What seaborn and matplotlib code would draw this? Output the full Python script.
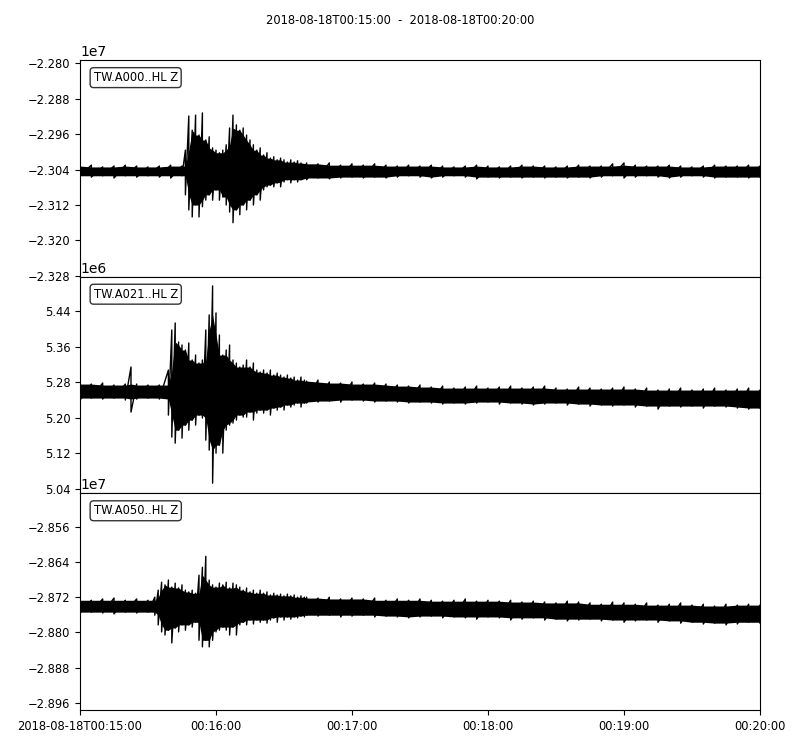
import numpy as np
import pandas as pd
import matplotlib
matplotlib.use("Agg")
import matplotlib.pyplot as plt
import seaborn as sns
from matplotlib.ticker import ScalarFormatter

# ---------------- data ----------------
title = "2018-08-18T00:15:00  -  2018-08-18T00:20:00"
trace_ids = ["TW.A000..HL Z", "TW.A021..HL Z", "TW.A050..HL Z"]
x_tick_seconds = [0, 60, 120, 180, 240, 300]
x_tick_labels = ["2018-08-18T00:15:00", "00:16:00", "00:17:00",
                 "00:18:00", "00:19:00", "00:20:00"]

# ---- TW.A000 (values x 1e7), envelope upper / lower at time t (s after 00:15:00)
a000_t = [0, 5, 10, 15, 20, 25, 30, 35, 40, 45,
          46.5, 48, 49.5, 51, 52.5, 54, 55.5, 57, 58.5, 60,
          61.5, 63, 64.5, 66, 67.5, 69, 70.5, 72, 73.5, 75,
          76.5, 78, 79.5, 81, 82.5, 84, 85.5, 87, 88.5, 90,
          91.5, 93, 94.5, 96, 97.5,
          100, 105, 110, 115, 120, 125, 130, 135, 140, 145,
          150, 155, 160, 165, 170, 175, 180, 185, 190, 195,
          200, 205, 210, 215, 220, 225, 230, 235, 240, 245,
          250, 255, 260, 265, 270, 275, 280, 285, 290, 295, 300]
a000_hi = [-2.3032, -2.3030, -2.3034, -2.3032, -2.3030, -2.3032, -2.3034, -2.3032, -2.3030, -2.3032,
           -2.2996, -2.2919, -2.2951, -2.2917, -2.2962, -2.2912, -2.2973, -2.2966, -2.2991, -2.2996,
           -2.3002, -2.2996, -2.2984, -2.2946, -2.2917, -2.2939, -2.2951, -2.2946, -2.2962, -2.2973,
           -2.2984, -2.2996, -2.2991, -2.3007, -2.3002, -2.3014, -2.3011, -2.3018, -2.3014, -2.3018,
           -2.3023, -2.3018, -2.3023, -2.3020, -2.3025,
           -2.3025, -2.3027, -2.3025, -2.3030, -2.3027, -2.3030, -2.3027, -2.3030, -2.3032, -2.3030,
           -2.3032, -2.3030, -2.3032, -2.3034, -2.3032, -2.3030, -2.3032, -2.3034, -2.3032, -2.3030,
           -2.3032, -2.3032, -2.3034, -2.3032, -2.3030, -2.3032, -2.3032, -2.3027, -2.3025, -2.3030,
           -2.3032, -2.3032, -2.3030, -2.3032, -2.3034, -2.3032, -2.3030, -2.3032, -2.3032, -2.3030,
           -2.3032]
a000_lo = [-2.3054, -2.3057, -2.3054, -2.3059, -2.3054, -2.3057, -2.3054, -2.3057, -2.3059, -2.3054,
           -2.3097, -2.3131, -2.3147, -2.3120, -2.3147, -2.3124, -2.3109, -2.3097, -2.3109, -2.3086,
           -2.3109, -2.3102, -2.3120, -2.3136, -2.3160, -2.3131, -2.3142, -2.3120, -2.3131, -2.3109,
           -2.3120, -2.3097, -2.3109, -2.3086, -2.3079, -2.3075, -2.3079, -2.3070, -2.3079, -2.3068,
           -2.3063, -2.3070, -2.3063, -2.3068, -2.3063,
           -2.3063, -2.3059, -2.3061, -2.3059, -2.3057, -2.3059, -2.3057, -2.3059, -2.3057, -2.3054,
           -2.3057, -2.3059, -2.3057, -2.3054, -2.3057, -2.3061, -2.3057, -2.3059, -2.3057, -2.3059,
           -2.3057, -2.3059, -2.3057, -2.3059, -2.3057, -2.3059, -2.3057, -2.3054, -2.3059, -2.3057,
           -2.3054, -2.3057, -2.3059, -2.3057, -2.3054, -2.3057, -2.3059, -2.3057, -2.3057, -2.3059,
           -2.3057]
a000_yticks = [-2.280, -2.288, -2.296, -2.304, -2.312, -2.320, -2.328]

# ---- TW.A021 (values x 1e6)
a021_t = [0, 5, 10, 15, 20, 22.5, 25, 30, 35,
          39, 40.5, 42, 43.5, 45, 46.5, 48, 49.5, 51, 52.5,
          54, 55.5, 57, 58.5, 60, 61.5, 63, 64.5, 66, 67.5,
          69, 70.5, 72, 73.5, 75, 76.5, 78, 79.5, 81, 82.5,
          84, 85.5, 87, 88.5, 90, 91.5, 93, 94.5, 96, 97.5, 99,
          100, 105, 110, 115, 120, 125, 130, 135, 140, 145,
          150, 155, 160, 165, 170, 175, 180, 185, 190, 195,
          200, 205, 210, 215, 220, 225, 230, 235, 240, 245,
          250, 255, 260, 265, 270, 275, 280, 285, 290, 295, 300]
a021_hi = [5.2783, 5.2760, 5.2783, 5.2738, 5.2760, 5.3144, 5.2760, 5.2738, 5.2738,
           5.3076, 5.3978, 5.4136, 5.3708, 5.3640, 5.3527, 5.3685, 5.3302, 5.3414, 5.3234,
           5.3302, 5.3978, 5.4317, 5.4971, 5.4362, 5.3865, 5.3414, 5.3527, 5.3640, 5.3302,
           5.3234, 5.3144, 5.3189, 5.3302, 5.3144, 5.3234, 5.3076, 5.3031, 5.3076, 5.3008,
           5.3076, 5.2963, 5.3008, 5.2963, 5.2918, 5.2963, 5.2895, 5.2918, 5.2850, 5.2918, 5.2850,
           5.2827, 5.2850, 5.2805, 5.2783, 5.2805, 5.2760, 5.2783, 5.2760, 5.2738, 5.2715,
           5.2738, 5.2693, 5.2715, 5.2670, 5.2693, 5.2715, 5.2670, 5.2693, 5.2715, 5.2670,
           5.2693, 5.2715, 5.2670, 5.2648, 5.2693, 5.2670, 5.2648, 5.2670, 5.2693, 5.2648,
           5.2670, 5.2625, 5.2648, 5.2670, 5.2625, 5.2648, 5.2670, 5.2625, 5.2648, 5.2670,
           5.2625]
a021_lo = [5.2399, 5.2444, 5.2422, 5.2444, 5.2399, 5.2129, 5.2422, 5.2444, 5.2422,
           5.2061, 5.1565, 5.1429, 5.1722, 5.1542, 5.1835, 5.1722, 5.1948, 5.1835, 5.2061,
           5.1994, 5.1497, 5.1272, 5.0527, 5.1204, 5.1384, 5.1204, 5.1722, 5.1835, 5.1880,
           5.1948, 5.2061, 5.2016, 5.2016, 5.2129, 5.1948, 5.2106, 5.2174, 5.2106, 5.2174,
           5.2061, 5.2219, 5.2174, 5.2242, 5.2174, 5.2287, 5.2242, 5.2287, 5.2332, 5.2242, 5.2332,
           5.2332, 5.2354, 5.2377, 5.2354, 5.2399, 5.2377, 5.2354, 5.2377, 5.2354, 5.2332,
           5.2354, 5.2332, 5.2309, 5.2332, 5.2309, 5.2332, 5.2354, 5.2309, 5.2332, 5.2309,
           5.2287, 5.2309, 5.2332, 5.2287, 5.2309, 5.2264, 5.2287, 5.2264, 5.2287, 5.2242,
           5.2264, 5.2196, 5.2264, 5.2242, 5.2264, 5.2219, 5.2264, 5.2242, 5.2219, 5.2196,
           5.2219]
a021_yticks = [5.04, 5.12, 5.20, 5.28, 5.36, 5.44]

# ---- TW.A050 (values x 1e7)
a050_t = [0, 5, 10, 15, 20, 25, 30,
          33, 34.5, 36, 37.5, 39, 40.5, 42, 43.5, 45, 46.5,
          48, 49.5, 51, 52.5, 54, 55.5, 57, 58.5, 60, 61.5,
          63, 64.5, 66, 67.5, 69, 70.5, 72, 73.5, 75, 76.5,
          78, 79.5, 81, 82.5, 84, 85.5, 87, 88.5, 90, 91.5,
          93, 94.5, 96, 97.5, 99,
          100, 105, 110, 115, 120, 125, 130, 135, 140, 145,
          150, 155, 160, 165, 170, 175, 180, 185, 190, 195,
          200, 205, 210, 215, 220, 225, 230, 235, 240, 245,
          250, 255, 260, 265, 270, 275, 280, 285, 290, 295, 300]
a050_hi = [-2.8722, -2.8727, -2.8724, -2.8722, -2.8727, -2.8724, -2.8727,
           -2.8720, -2.8704, -2.8686, -2.8692, -2.8681, -2.8697, -2.8688, -2.8699, -2.8692, -2.8704,
           -2.8708, -2.8704, -2.8711, -2.8670, -2.8652, -2.8627, -2.8681, -2.8692, -2.8697, -2.8688,
           -2.8692, -2.8686, -2.8699, -2.8688, -2.8692, -2.8697, -2.8704, -2.8699, -2.8708, -2.8704,
           -2.8711, -2.8704, -2.8711, -2.8708, -2.8715, -2.8711, -2.8715, -2.8713, -2.8717, -2.8713,
           -2.8717, -2.8715, -2.8720, -2.8717, -2.8720,
           -2.8720, -2.8722, -2.8720, -2.8724, -2.8722, -2.8724, -2.8722, -2.8727, -2.8724, -2.8727,
           -2.8724, -2.8727, -2.8729, -2.8727, -2.8724, -2.8729, -2.8727, -2.8729, -2.8727, -2.8731,
           -2.8729, -2.8731, -2.8733, -2.8729, -2.8731, -2.8733, -2.8736, -2.8731, -2.8733, -2.8736,
           -2.8733, -2.8738, -2.8736, -2.8733, -2.8738, -2.8736, -2.8740, -2.8736, -2.8738, -2.8736,
           -2.8738]
a050_lo = [-2.8756, -2.8754, -2.8756, -2.8758, -2.8754, -2.8756, -2.8754,
           -2.8761, -2.8783, -2.8799, -2.8806, -2.8795, -2.8824, -2.8790, -2.8799, -2.8783, -2.8795,
           -2.8783, -2.8788, -2.8777, -2.8818, -2.8833, -2.8818, -2.8833, -2.8818, -2.8799, -2.8795,
           -2.8788, -2.8795, -2.8806, -2.8788, -2.8806, -2.8783, -2.8777, -2.8783, -2.8772, -2.8781,
           -2.8772, -2.8777, -2.8772, -2.8779, -2.8772, -2.8767, -2.8777, -2.8765, -2.8772, -2.8765,
           -2.8770, -2.8765, -2.8767, -2.8763, -2.8765,
           -2.8761, -2.8763, -2.8761, -2.8765, -2.8763, -2.8761, -2.8765, -2.8763, -2.8765, -2.8767,
           -2.8765, -2.8763, -2.8767, -2.8765, -2.8767, -2.8770, -2.8765, -2.8767, -2.8772, -2.8770,
           -2.8767, -2.8772, -2.8770, -2.8774, -2.8772, -2.8770, -2.8774, -2.8772, -2.8777, -2.8774,
           -2.8772, -2.8777, -2.8774, -2.8779, -2.8777, -2.8781, -2.8779, -2.8783, -2.8781, -2.8777,
           -2.8779]
a050_yticks = [-2.856, -2.864, -2.872, -2.880, -2.888, -2.896]

# ---------------- figure ----------------
panels = [
    (a000_t, a000_hi, a000_lo, 1e7, a000_yticks, (-2.32823, -2.27932)),
    (a021_t, a021_hi, a021_lo, 1e6, a021_yticks, (5.0296, 5.5174)),
    (a050_t, a050_hi, a050_lo, 1e7, a050_yticks, (-2.89766, -2.84841)),
]

fig, axes = plt.subplots(3, 1, figsize=(8, 7.5), dpi=100, sharex=True)
fig.subplots_adjust(left=0.1, right=0.95, top=0.9196, bottom=0.0533, hspace=0)

for ax, name, (t, hi, lo, scale, yt, ylim) in zip(axes, trace_ids, panels):
    t = np.asarray(t, float)
    hi_s = pd.Series(hi) * scale
    lo_s = pd.Series(lo) * scale
    # dense core of the trace: where neighbouring swings overlap
    core_hi = hi_s.rolling(3, center=True, min_periods=1).min().to_numpy()
    core_lo = lo_s.rolling(3, center=True, min_periods=1).max().to_numpy()
    df = pd.DataFrame({"t": np.repeat(t, 2),
                       "v": np.column_stack([hi_s.to_numpy(), lo_s.to_numpy()]).ravel()})
    ax.fill_between(t, core_lo, core_hi, color="black", linewidth=0)
    sns.lineplot(data=df, x="t", y="v", estimator=None, sort=False,
                 color="black", linewidth=1.0, ax=ax)
    ax.set_xlabel("")
    ax.set_ylabel("")
    ax.set_ylim(ylim[0] * scale, ylim[1] * scale)
    ax.set_yticks([v * scale for v in yt])
    fmt = ScalarFormatter(useOffset=False)
    fmt.set_scientific(True)
    fmt.set_powerlimits((0, 0))
    ax.yaxis.set_major_formatter(fmt)
    ax.tick_params(axis="y", labelsize=8.3)
    ax.yaxis.get_offset_text().set_fontsize(10)
    ax.text(0.02, 0.95, name, transform=ax.transAxes, fontsize=8.3,
            ha="left", va="top",
            bbox=dict(boxstyle="round", fc="w", alpha=0.8))

axes[0].set_xlim(x_tick_seconds[0], x_tick_seconds[-1])
axes[-1].set_xticks(x_tick_seconds)
axes[-1].set_xticklabels(x_tick_labels)
axes[-1].tick_params(axis="x", labelsize=8.3)
for ax in axes[:-1]:
    ax.tick_params(axis="x", bottom=False, labelbottom=False)

fig.text(0.5, 1 - 21 / 750, title, ha="center", va="center", fontsize=8.3)

fig.savefig("out.png", dpi=100)
